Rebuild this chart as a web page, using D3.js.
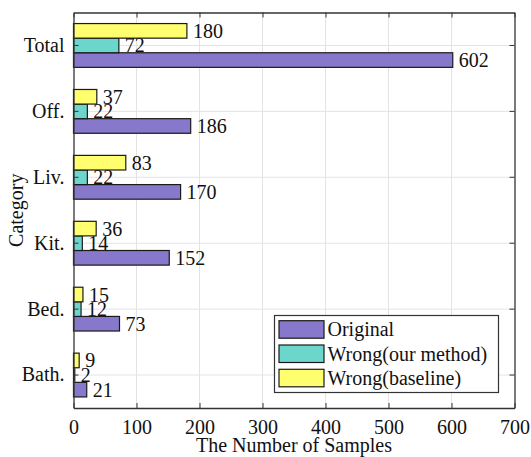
<!DOCTYPE html>
<html>
<head>
<meta charset="utf-8">
<script src="https://cdn.jsdelivr.net/npm/d3@7"></script>
<style>
  html, body { margin: 0; padding: 0; background: #fff; }
  svg { display: block; }
  svg text { font-family: 'Liberation Serif', 'Times New Roman', Times, serif; }
</style>
</head>
<body>
<svg id="chart" width="531" height="457"></svg>
<script>
// Categories from top to bottom
const categories = ["Total", "Off.", "Liv.", "Kit.", "Bed.", "Bath."];
// Series values per category
const original = [602, 186, 170, 152, 73, 21];
const wrongOurs = [72, 22, 22, 14, 12, 2];
const wrongBaseline = [180, 37, 83, 36, 15, 9];
const seriesNames = ["Original", "Wrong(our method)", "Wrong(baseline)"];
const xTicks = [0, 100, 200, 300, 400, 500, 600, 700];

const colors = ["#8878CC", "#6CD6CD", "#FEFE6E"];

const svg = d3.select("#chart");
const m = { left: 73.5, right: 514.5, top: 12.5, bottom: 408 };

const x = d3.scaleLinear().domain([0, 700]).range([m.left, m.right]);
const y = d3.scaleBand().domain(categories).range([m.top, m.bottom]).padding(0);

const barH = 14.6;
// offsets within a group: Original lowest, baseline on top
const series = [
  { name: seriesNames[0], values: original, color: colors[0], offset: barH },
  { name: seriesNames[1], values: wrongOurs, color: colors[1], offset: 0 },
  { name: seriesNames[2], values: wrongBaseline, color: colors[2], offset: -barH }
];

const center = c => y(c) + y.bandwidth() / 2;

// grid
const grid = svg.append("g");
grid.selectAll("line.vx").data(xTicks.slice(1, -1)).join("line")
  .attr("x1", d => x(d)).attr("x2", d => x(d))
  .attr("y1", m.top).attr("y2", m.bottom)
  .attr("stroke", "#e3e3e3").attr("stroke-width", 1);
grid.selectAll("line.hy").data(categories).join("line")
  .attr("x1", m.left).attr("x2", m.right)
  .attr("y1", d => center(d)).attr("y2", d => center(d))
  .attr("stroke", "#e3e3e3").attr("stroke-width", 1);

// bars
series.forEach(s => {
  const g = svg.append("g");
  g.selectAll("rect").data(categories).join("rect")
    .attr("x", x(0))
    .attr("y", (c) => center(c) + s.offset - barH / 2)
    .attr("width", (c, i) => x(s.values[i]) - x(0))
    .attr("height", barH)
    .attr("fill", s.color)
    .attr("stroke", "#1a1a1a")
    .attr("stroke-width", 1.2);
  g.selectAll("text").data(categories).join("text")
    .attr("x", (c, i) => x(s.values[i]) + 6)
    .attr("y", c => center(c) + s.offset)
    .attr("dy", "0.35em")
    .attr("font-size", 20)
    .attr("fill", "#111")
    .text((c, i) => s.values[i]);
});

// axes
const axisColor = "#333";
const bottomAxis = d3.axisBottom(x).tickValues(xTicks).tickSizeInner(-5).tickSizeOuter(0).tickPadding(12);
const gb = svg.append("g").attr("transform", `translate(0,${m.bottom})`).call(bottomAxis);
const topAxis = d3.axisTop(x).tickValues(xTicks).tickSizeInner(-5).tickSizeOuter(0).tickFormat("");
const gt = svg.append("g").attr("transform", `translate(0,${m.top})`).call(topAxis);
const leftAxis = d3.axisLeft(y).tickSizeInner(-5).tickSizeOuter(0).tickPadding(9);
const gl = svg.append("g").attr("transform", `translate(${m.left},0)`).call(leftAxis);
const rightAxis = d3.axisRight(y).tickSizeInner(-5).tickSizeOuter(0).tickFormat("");
const gr = svg.append("g").attr("transform", `translate(${m.right},0)`).call(rightAxis);

[gb, gt, gl, gr].forEach(g => {
  g.attr("font-family", null).attr("font-size", null);
  g.select(".domain").attr("stroke", axisColor).attr("stroke-width", 1.3);
  g.selectAll(".tick line").attr("stroke", axisColor).attr("stroke-width", 1);
  g.selectAll(".tick text").attr("font-size", 20).attr("fill", "#111");
});
gb.selectAll(".tick text").attr("dy", "0.71em");

// axis titles
svg.append("text")
  .attr("x", (m.left + m.right) / 2).attr("y", 452)
  .attr("text-anchor", "middle").attr("font-size", 20).attr("fill", "#111")
  .text("The Number of Samples");
svg.append("text")
  .attr("transform", `translate(23,${(m.top + m.bottom) / 2}) rotate(-90)`)
  .attr("text-anchor", "middle").attr("font-size", 20).attr("fill", "#111")
  .text("Category");

// legend
const lg = svg.append("g");
lg.append("rect")
  .attr("x", 274.5).attr("y", 315.5).attr("width", 224).attr("height", 77)
  .attr("fill", "#fff").attr("stroke", "#333").attr("stroke-width", 1.2);
series.forEach((s, i) => {
  const ty = 320.7 + i * 24.3;
  lg.append("rect")
    .attr("x", 279).attr("y", ty).attr("width", 45).attr("height", 17.5)
    .attr("fill", s.color).attr("stroke", "#1a1a1a").attr("stroke-width", 1.2);
  lg.append("text")
    .attr("x", 327.5).attr("y", ty + 8.75).attr("dy", "0.35em")
    .attr("font-size", 20).attr("fill", "#111")
    .text(s.name);
});
</script>
</body>
</html>
